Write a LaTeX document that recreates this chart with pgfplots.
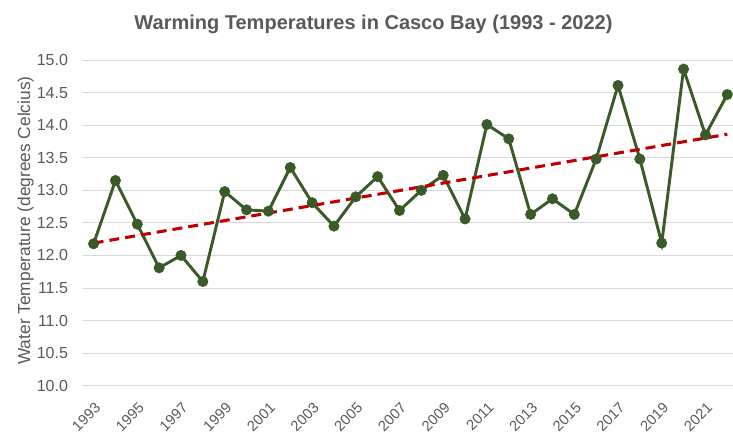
\documentclass[border=0pt]{standalone}
\usepackage{fontspec}
\setmainfont{Liberation Sans}
\usepackage{pgfplots}
\pgfplotsset{compat=1.18}
\definecolor{txtgray}{HTML}{595959}
\definecolor{gridgray}{HTML}{D9D9D9}
\definecolor{dgreen}{HTML}{3A5A27}
\definecolor{dred}{HTML}{C00000}
\begin{document}
\begin{tikzpicture}
\begin{axis}[
  at={(0,0)}, anchor=south west,
  scale only axis,
  width=491.6pt, height=244.3pt,
  xmin=1992.5, xmax=2022.5,
  ymin=10, ymax=15,
  ytick={10,10.5,...,15},
  xtick={1993,1995,...,2021},
  ymajorgrids,
  grid style={gridgray, line width=0.75pt},
  axis line style={draw=none},
  major tick length=0pt,
  /pgf/number format/assume math mode=true,
  yticklabel style={font=\fontsize{12}{14}\selectfont, text=txtgray, xshift=-7.5pt,
    /pgf/number format/fixed, /pgf/number format/fixed zerofill, /pgf/number format/precision=1},
  xticklabel style={font=\fontsize{11}{13}\selectfont, text=txtgray, rotate=45, anchor=north east,
    inner sep=0pt, xshift=-8pt, yshift=-8.5pt, /pgf/number format/1000 sep={}},
  clip=false,
]
\addplot[dgreen, line width=2.2pt, mark=*, mark size=3.9pt, mark options={fill=dgreen, draw=dgreen, line width=0.4pt}]
coordinates {
(1993,12.18) (1994,13.15) (1995,12.48) (1996,11.81) (1997,12.00)
(1998,11.60) (1999,12.98) (2000,12.70) (2001,12.68) (2002,13.35)
(2003,12.81) (2004,12.45) (2005,12.90) (2006,13.21) (2007,12.69)
(2008,13.00) (2009,13.23) (2010,12.56) (2011,14.01) (2012,13.79)
(2013,12.63) (2014,12.87) (2015,12.63) (2016,13.48) (2017,14.61)
(2018,13.48) (2019,12.19) (2020,14.86) (2021,13.85) (2022,14.47)
};
\addplot[dred, line width=2.3pt, dash pattern=on 7.5pt off 4.5pt]
coordinates {(1993,12.19) (2022,13.86)};
\end{axis}
\node[anchor=base, text=txtgray, font=\fontsize{15}{18}\selectfont\bfseries] at (218.1pt,267.3pt)
  {Warming Temperatures in Casco Bay (1993 - 2022)};
\node[anchor=base, rotate=90, text=txtgray, font=\fontsize{13}{15}\selectfont] at (-39.5pt,123.9pt)
  {Water Temperature (degrees Celcius)};
\pgfresetboundingbox
\path[use as bounding box] (-62pt,-34pt) rectangle (487.7pt,289.3pt);
\end{tikzpicture}
\end{document}
